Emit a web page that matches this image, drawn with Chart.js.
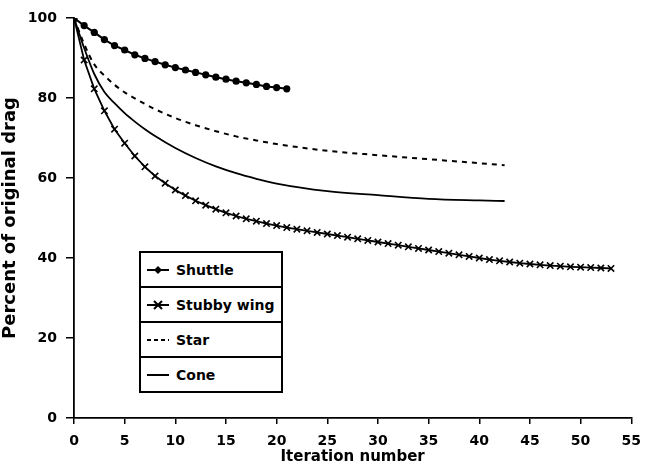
<!DOCTYPE html>
<html>
<head>
<meta charset="utf-8">
<script src="https://cdn.jsdelivr.net/npm/chart.js@4.4.1/dist/chart.umd.min.js"></script>
<style>
  body { margin: 0; background: #fff; }
  #wrap { position: relative; width: 650px; height: 472px; }
  #legend {
    position: absolute; left: 139px; top: 251px; width: 140px;
    border: 2px solid #000; background: #fff;
    font: bold 14px "DejaVu Sans", sans-serif; color: #000;
  }
  #legend .row { height: 33px; display: flex; align-items: center; padding-left: 6px; border-top: 2px solid #000; }
  #legend .row:first-child { border-top: none; }
  #legend svg { margin-right: 7px; }
</style>
</head>
<body>
<div id="wrap">
  <canvas id="dragChart" width="650" height="472"></canvas>
  <div id="legend">
    <div class="row"><svg width="22" height="12"><line x1="0" y1="6" x2="22" y2="6" stroke="#000" stroke-width="2"/><polygon points="11,2 15,6 11,10 7,6" fill="#000"/></svg>Shuttle</div>
    <div class="row"><svg width="22" height="12"><line x1="0" y1="6" x2="22" y2="6" stroke="#000" stroke-width="2"/><path d="M7,2 L15,10 M15,2 L7,10" stroke="#000" stroke-width="2"/></svg>Stubby wing</div>
    <div class="row"><svg width="22" height="12"><line x1="0" y1="6" x2="22" y2="6" stroke="#000" stroke-width="2" stroke-dasharray="4,3"/></svg>Star</div>
    <div class="row"><svg width="22" height="12"><line x1="0" y1="6" x2="22" y2="6" stroke="#000" stroke-width="2"/></svg>Cone</div>
  </div>
</div>
<script>
// iteration number = index
const shuttleDrag = [100, 98.1, 96.4, 94.6, 93.1, 92.0, 90.8, 89.9, 89.1, 88.3, 87.6,
  87.0, 86.4, 85.8, 85.2, 84.7, 84.2, 83.8, 83.4, 82.9, 82.6, 82.3];

const stubbyDrag = [100, 89.5, 82.3, 76.8, 72.2, 68.7, 65.5, 62.8, 60.5, 58.7, 57.0,
  55.6, 54.3, 53.2, 52.2, 51.3, 50.5, 49.8, 49.2, 48.6, 48.1,
  47.6, 47.2, 46.8, 46.4, 46.0, 45.6, 45.2, 44.8, 44.4, 44.0,
  43.6, 43.2, 42.8, 42.4, 42.0, 41.6, 41.2, 40.8, 40.4, 40.0,
  39.6, 39.3, 39.0, 38.7, 38.5, 38.3, 38.1, 37.95, 37.8, 37.7,
  37.6, 37.5, 37.4];

// star and cone are plain curves, read at these iterations
const curveIters = [0, 1, 2, 3, 4, 5, 6, 7, 8, 10, 12, 14, 16, 18, 20, 25, 30, 35, 40, 42.5];
const starDrag = [100, 93.5, 88.4, 85.6, 83.3, 81.4, 79.9, 78.5, 77.2, 75.0, 73.2, 71.7, 70.4, 69.4, 68.5, 66.8, 65.7, 64.7, 63.7, 63.2];
const coneDrag = [100, 92.5, 86.0, 81.5, 78.7, 76.2, 74.1, 72.2, 70.5, 67.5, 65.0, 62.9, 61.2, 59.8, 58.6, 56.7, 55.7, 54.8, 54.4, 54.25];

const xTicks = [0, 5, 10, 15, 20, 25, 30, 35, 40, 45, 50, 55];
const yTicks = [0, 20, 40, 60, 80, 100];

const byIndex = arr => arr.map((v, i) => ({x: i, y: v}));
const byIter = (xs, ys) => xs.map((x, i) => ({x: x, y: ys[i]}));

const tickFont = {family: '"DejaVu Sans", sans-serif', size: 14, weight: 'bold'};

new Chart(document.getElementById('dragChart'), {
  type: 'line',
  data: {
    datasets: [
      {
        label: 'Shuttle',
        data: byIndex(shuttleDrag),
        borderColor: '#000', backgroundColor: '#000',
        borderWidth: 2, pointStyle: 'circle', pointRadius: 3.6, pointBorderWidth: 0
      },
      {
        label: 'Stubby wing',
        data: byIndex(stubbyDrag),
        borderColor: '#000', backgroundColor: '#000',
        borderWidth: 1.8, pointStyle: 'crossRot', pointRadius: 4.5, pointBorderWidth: 1.6
      },
      {
        label: 'Star',
        data: byIter(curveIters, starDrag),
        borderColor: '#000', borderWidth: 2, borderDash: [5, 5],
        pointRadius: 0, cubicInterpolationMode: 'monotone'
      },
      {
        label: 'Cone',
        data: byIter(curveIters, coneDrag),
        borderColor: '#000', borderWidth: 1.8,
        pointRadius: 0, cubicInterpolationMode: 'monotone'
      }
    ]
  },
  options: {
    responsive: false,
    animation: false,
    devicePixelRatio: 1,
    layout: {padding: {top: 18, right: 13, left: 0, bottom: 0}},
    plugins: {legend: {display: false}, tooltip: {enabled: false}},
    scales: {
      x: {
        type: 'linear', min: 0, max: 55,
        afterBuildTicks: s => { s.ticks = xTicks.map(v => ({value: v})); },
        afterFit: s => { s.height = 54; },
        grid: {drawOnChartArea: false, drawTicks: true, tickLength: 6, color: '#000', lineWidth: 1.5},
        border: {display: true, color: '#000', width: 1.8},
        ticks: {color: '#000', font: tickFont, padding: 9, maxRotation: 0},
        title: {display: true, text: 'Iteration number', color: '#000',
          font: {family: '"DejaVu Sans", sans-serif', size: 15, weight: 'bold', lineHeight: 1}, padding: {top: 0, bottom: 7}}
      },
      y: {
        min: 0, max: 100,
        afterBuildTicks: s => { s.ticks = yTicks.map(v => ({value: v})); },
        afterFit: s => { s.width = 74; },
        grid: {drawOnChartArea: false, drawTicks: true, tickLength: 8, color: '#000', lineWidth: 1.5},
        border: {display: true, color: '#000', width: 1.8},
        ticks: {color: '#000', font: tickFont, padding: 9},
        title: {display: true, text: 'Percent of original drag', color: '#000',
          font: {family: '"DejaVu Sans", sans-serif', size: 18, weight: 'bold', lineHeight: 1}, padding: {top: 1, bottom: 0}}
      }
    }
  }
});
</script>
</body>
</html>
